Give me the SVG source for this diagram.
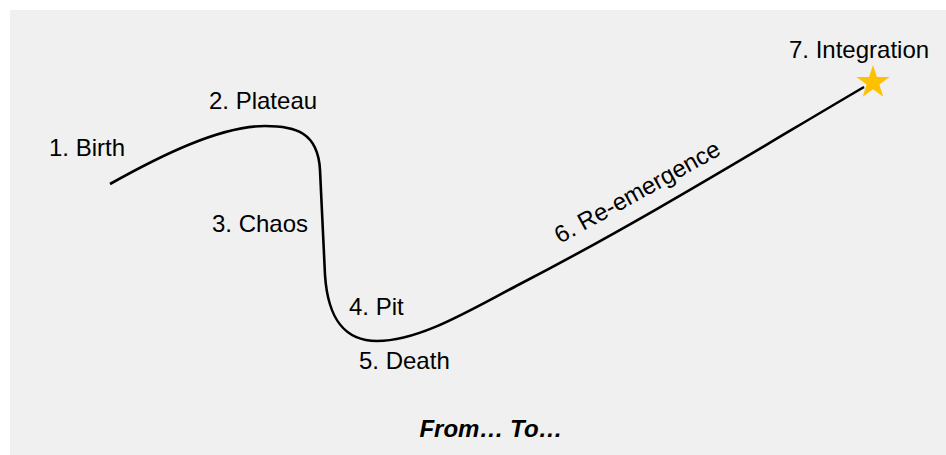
<svg xmlns="http://www.w3.org/2000/svg" width="946" height="455" viewBox="0 0 946 455">
  <style>
    .lbl { font-family: "Liberation Sans", Arial, sans-serif; font-size: 24px; fill: #000; }
    .title { font-family: "Liberation Sans", Arial, sans-serif; font-size: 24px; font-weight: bold; font-style: italic; fill: #000; }
    .curve { fill: none; stroke: #000; stroke-width: 2.6; stroke-linecap: butt; stroke-linejoin: round; }
  </style>
  <rect x="10" y="10" width="936" height="445" fill="#f0f0f0"/>

  <!-- journey curve -->
  <g id="connectors">
    <path class="curve" d="M110,184 C160,156 220,126 265,126 C295,126 318,132 320,170 L325,275 C328,320 345,341 377,341 C420,341 470,310 520,284 C640,222 760,148 864,87"/>
  </g>

  <g id="stage-birth"><text class="lbl" x="49" y="156">1. Birth</text></g>
  <g id="stage-plateau"><text class="lbl" x="209" y="109">2. Plateau</text></g>
  <g id="stage-chaos"><text class="lbl" x="212" y="232">3. Chaos</text></g>
  <g id="stage-pit"><text class="lbl" x="349" y="315">4. Pit</text></g>
  <g id="stage-death"><text class="lbl" x="359" y="369">5. Death</text></g>
  <g id="stage-reemergence"><text class="lbl" transform="translate(560,244) rotate(-29)">6. Re-emergence</text></g>
  <g id="stage-integration">
    <text class="lbl" x="789" y="58">7. Integration</text>
    <polygon fill="#ffc000" transform="translate(873,82.5)" points="0,-17.5 3.93,-5.41 16.64,-5.41 6.36,2.07 10.29,14.16 0,6.69 -10.29,14.16 -6.36,2.07 -16.64,-5.41 -3.93,-5.41"/>
  </g>

  <g id="caption"><text class="title" x="491" y="437" text-anchor="middle">From… To…</text></g>
</svg>
